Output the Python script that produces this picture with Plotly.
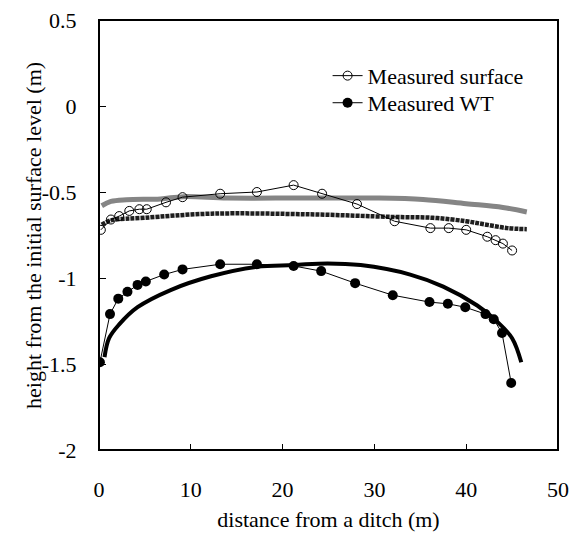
import plotly.graph_objects as pg

# measured surface (open circles)
surf_x = [0.2, 1.3, 2.2, 3.3, 4.4, 5.2, 7.3, 9.1, 13.2, 17.2, 21.2, 24.3, 28.1,
          32.2, 36.1, 38.1, 40.0, 42.3, 43.2, 44.0, 45.0]
surf_y = [-0.72, -0.66, -0.64, -0.61, -0.60, -0.60, -0.56, -0.53, -0.51, -0.50,
          -0.46, -0.51, -0.57, -0.67, -0.71, -0.71, -0.72, -0.76, -0.78, -0.80, -0.84]

# measured water table (filled circles)
wt_x = [0.1, 1.2, 2.1, 3.1, 4.2, 5.1, 7.1, 9.1, 13.2, 17.2, 21.2, 24.2, 27.9,
        32.0, 36.0, 38.0, 39.9, 42.1, 43.0, 43.9, 44.9]
wt_y = [-1.49, -1.21, -1.12, -1.08, -1.04, -1.02, -0.98, -0.95, -0.92, -0.92,
        -0.93, -0.96, -1.03, -1.10, -1.14, -1.15, -1.17, -1.21, -1.24, -1.32, -1.61]

# simulated surface (grey band)
sim_surf_x = [0.3, 1.3, 3.0, 6.7, 9.2, 14.0, 22.0, 30.0, 35.3, 40.0, 44.0, 46.6]
sim_surf_y = [-0.58, -0.555, -0.545, -0.54, -0.527, -0.535, -0.535, -0.535,
              -0.543, -0.568, -0.59, -0.616]

# simulated surface 2 (dark band)
sim2_x = [0.3, 1.3, 4.9, 12.2, 23.0, 32.0, 36.4, 40.0, 42.2, 44.5, 46.6]
sim2_y = [-0.69, -0.665, -0.65, -0.626, -0.63, -0.645, -0.65, -0.67, -0.69, -0.71, -0.716]

# simulated water table (thick black curve)
sim_wt_x = [0.6, 1.1, 2.2, 4.2, 7.8, 12.2, 17.2, 21.2, 24.9, 28.5, 33.9, 37.5,
            41.2, 43.3, 45.0, 46.0]
sim_wt_y = [-1.46, -1.35, -1.27, -1.17, -1.07, -0.99, -0.935, -0.925, -0.915,
            -0.925, -0.98, -1.05, -1.16, -1.25, -1.35, -1.49]

fnt = "Liberation Serif, Times New Roman, serif"

fig = pg.Figure()
fig.add_trace(pg.Scatter(x=sim_surf_x, y=sim_surf_y, mode="lines", showlegend=False,
                         line=dict(color="#858585", width=5, shape="spline")))
fig.add_trace(pg.Scatter(x=sim2_x, y=sim2_y, mode="lines", showlegend=False,
                         line=dict(color="#1e1e1e", width=4.5, shape="spline",
                                   dash="4px,1px")))
fig.add_trace(pg.Scatter(x=sim_wt_x, y=sim_wt_y, mode="lines", showlegend=False,
                         line=dict(color="black", width=4, shape="spline")))
fig.add_trace(pg.Scatter(x=surf_x, y=surf_y, mode="lines+markers", name="Measured surface",
                         line=dict(color="black", width=1), legend="legend",
                         marker=dict(symbol="circle-open", size=9, color="black",
                                     line=dict(width=1))))
fig.add_trace(pg.Scatter(x=wt_x, y=wt_y, mode="lines+markers", name="Measured WT",
                         line=dict(color="black", width=1), legend="legend2",
                         marker=dict(symbol="circle", size=10, color="black")))

leg = dict(x=0.498, xanchor="left", yanchor="top", bgcolor="rgba(0,0,0,0)",
           font=dict(size=22))
fig.update_layout(
    width=571, height=533,
    margin=dict(l=99, r=13, t=20, b=83),
    paper_bgcolor="white", plot_bgcolor="white",
    font=dict(family=fnt, size=22, color="black"),
    legend=dict(leg, y=0.919),
    legend2=dict(leg, y=0.856),
    shapes=[dict(type="rect", xref="paper", yref="paper", x0=0, x1=1, y0=0, y1=1,
                 line=dict(color="black", width=2), layer="above")],
    annotations=[dict(text="height from the initial surface level (m)",
                      xref="paper", yref="paper", x=-0.144, y=0.5,
                      xanchor="center", yanchor="middle",
                      textangle=-90, showarrow=False, font=dict(size=22))],
)
fig.update_xaxes(range=[0, 50], tickvals=[0, 10, 20, 30, 40, 50],
                 ticks="inside", ticklen=6, tickcolor="black", automargin=False,
                 ticklabeloverflow="allow",
                 showline=True, linecolor="black", linewidth=1, mirror=True,
                 showgrid=False, zeroline=False, ticklabelstandoff=20,
                 title=dict(text="distance from a ditch (m)", font=dict(size=22),
                            standoff=10))
fig.update_yaxes(range=[-2, 0.5], tickvals=[-2, -1.5, -1, -0.5, 0, 0.5],
                 ticktext=["-2", "-1.5", "-1", "-0.5", "0", "0.5"],
                 ticks="inside", ticklen=7, tickcolor="black", automargin=False,
                 ticklabeloverflow="allow",
                 showline=True, linecolor="black", linewidth=1, mirror=True,
                 showgrid=False, zeroline=False, ticklabelstandoff=17)

fig.write_html("out.html", config={"displayModeBar": False},
               post_script="document.body.style.margin='0';")
